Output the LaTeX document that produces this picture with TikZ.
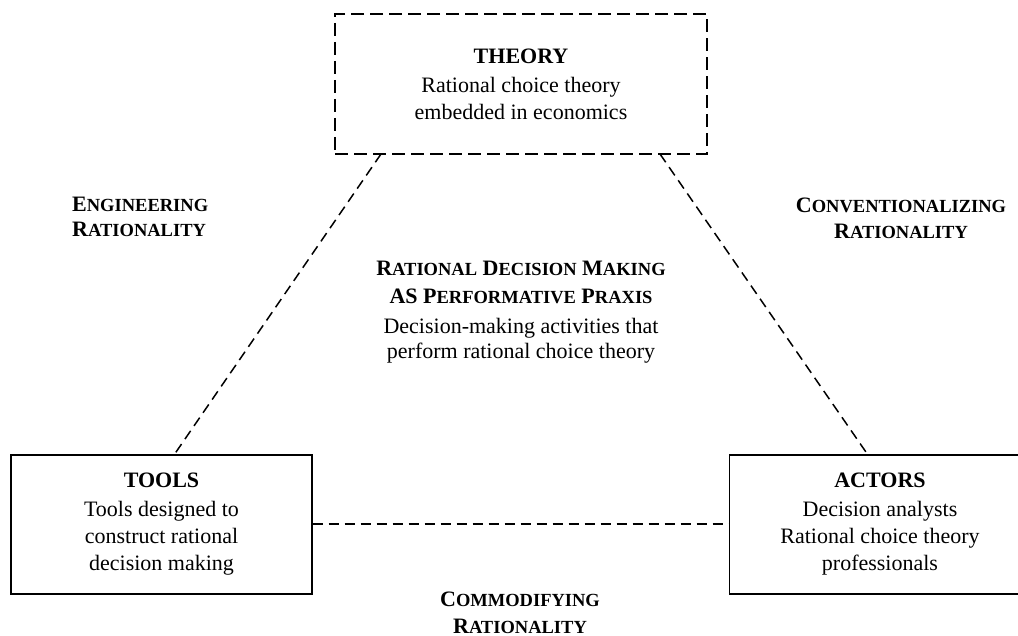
\documentclass[tikz,border=0pt]{standalone}
\usepackage{fontspec}
\setmainfont{Liberation Serif}
\newcommand\bigsz{\fontsize{22}{25}\selectfont}
\newcommand\smsz{\fontsize{18.5}{25}\selectfont}
\newcommand\fsc[2]{{\bigsz #1}{\smsz #2}}
\tikzset{
  every node/.style={font=\fontsize{22}{27}\selectfont, align=center, inner sep=0pt},
  solidbox/.style={draw, line width=1.4pt, minimum width=301pt, minimum height=139pt},
  theorybox/.style={draw, line width=2.4pt, dash pattern=on 13pt off 6pt, minimum width=372pt, minimum height=140pt},
  link/.style={line width=1.5pt, dash pattern=on 10pt off 6pt},
  lbl/.style={font=\fontsize{22}{25}\selectfont\bfseries, align=center}
}
\begin{document}
\begin{tikzpicture}[x=1pt,y=-1pt]
\useasboundingbox (0,0) rectangle (1018,636);
\node[theorybox] (theory) at (521,84) {\textbf{THEORY}\\[2pt]Rational choice theory\\embedded in economics};
\node[solidbox] (tools) at (161.5,524.5) {\textbf{TOOLS}\\[2pt]Tools designed to\\construct rational\\decision making};
\node[solidbox] (actors) at (880,524.5) {\textbf{ACTORS}\\[2pt]Decision analysts\\Rational choice theory\\professionals};
\coordinate (t1) at (381,154);
\coordinate (t2) at (660,154);
\coordinate (b1) at (174,455);
\coordinate (b2) at (868,455);
\draw[link] (t1) -- (b1);
\draw[link] (t2) -- (b2);
\draw[link] (tools.east |- 0,524) -- (actors.west |- 0,524);
\node[lbl, anchor=base west, align=left] (eng) at (72,237) {\fsc{E}{NGINEERING}\\\fsc{R}{ATIONALITY}};
\node[lbl, anchor=base] (conv) at (901,239) {\fsc{C}{ONVENTIONALIZING}\\[1pt]\fsc{R}{ATIONALITY}};
\node[lbl, anchor=base] (comm) at (520,633) {\fsc{C}{OMMODIFYING}\\[2pt]\fsc{R}{ATIONALITY}};
\node[anchor=base] (praxis) at (521,359) {\textbf{\fsc{R}{ATIONAL} \fsc{D}{ECISION} \fsc{M}{AKING}}\\[1pt]\textbf{\fsc{AS P}{ERFORMATIVE} \fsc{P}{RAXIS}}\\[3pt]Decision-making activities that\\[-2pt]perform rational choice theory};
\end{tikzpicture}
\end{document}
